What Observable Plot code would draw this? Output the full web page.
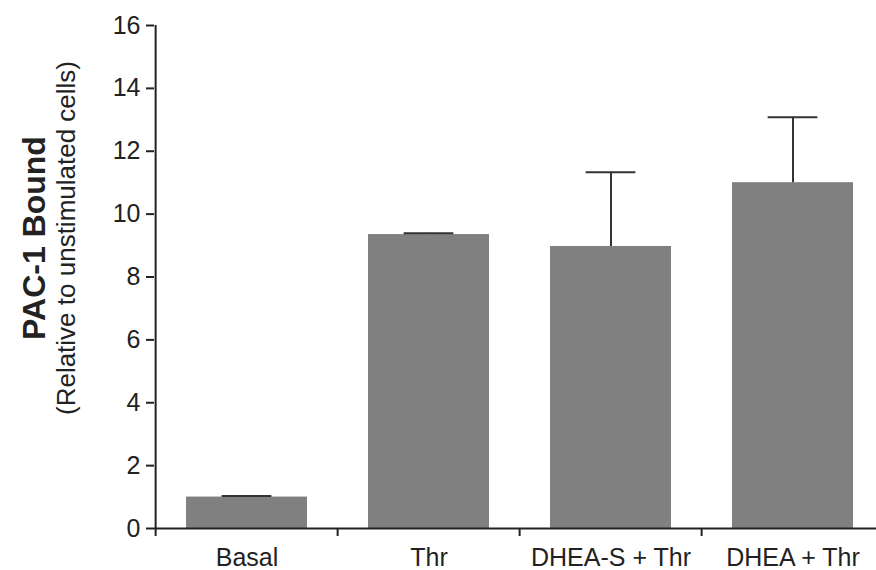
<!DOCTYPE html>
<html>
<head>
<meta charset="utf-8">
<script src="https://cdn.jsdelivr.net/npm/d3@7"></script>
<script src="https://cdn.jsdelivr.net/npm/@observablehq/plot@0.6"></script>
<style>
  html, body { margin: 0; padding: 0; background: #fff; }
  #chart svg { display: block; }
</style>
</head>
<body>
<div id="chart"></div>
<script>
const categories = ["Basal", "Thr", "DHEA-S + Thr", "DHEA + Thr"];
const means = [1.0, 9.35, 8.97, 11.0];
const errors = [0.03, 0.04, 2.36, 2.08];
const yTicks = [0, 2, 4, 6, 8, 10, 12, 14, 16];
const titleMain = "PAC-1 Bound";
const titleSub = "(Relative to unstimulated cells)";

const data = categories.map((c, i) => ({cat: c, value: means[i], err: errors[i], top: means[i] + errors[i]}));

const W = 876, H = 570, ML = 154;
const rangeRight = 885;
const step = (rangeRight - ML) / categories.length;
const font = "Liberation Sans, Arial, sans-serif";
const ink = "#222";

const chart = Plot.plot({
  width: W,
  height: H,
  marginLeft: ML,
  marginRight: 0,
  marginTop: 25,
  marginBottom: 42,
  style: {fontFamily: font, color: ink, background: "#fff"},
  x: {domain: categories, range: [ML, rangeRight], paddingInner: 0.333, paddingOuter: 0.1665},
  y: {domain: [0, 16]},
  marks: [
    Plot.barY(data, {x: "cat", y: "value", fill: "#808080"}),
    Plot.ruleX(data, {x: "cat", y1: "value", y2: "top", stroke: "#333", strokeWidth: 2}),
    Plot.tickY(data, {x: "cat", y: "top", stroke: "#333", strokeWidth: 2, insetLeft: step / 2 - 6, insetRight: step / 2 - 6}),
    Plot.ruleY([0], {stroke: ink, strokeWidth: 2}),
    Plot.ruleX([categories[0]], {x: d => d, y1: 0, y2: 16, dx: -step / 2, stroke: ink, strokeWidth: 2}),
    Plot.axisY({ticks: yTicks, tickSize: 8, tickPadding: 6, fontSize: 25, label: null, stroke: ink, strokeWidth: 2, fill: ink}),
    Plot.axisX({tickSize: 8, tickFormat: () => "", dx: -step / 2, label: null, stroke: ink, strokeWidth: 2}),
    Plot.axisX({tickSize: 0, tickPadding: 20, fontSize: 25, label: null, fill: ink}),
    Plot.text([titleMain], {text: d => d, frameAnchor: "left", rotate: -90, dx: -120, dy: -39, fontSize: 32, fontWeight: "bold", fill: ink, textAnchor: "middle", lineAnchor: "middle"}),
    Plot.text([titleSub], {text: d => d, frameAnchor: "left", rotate: -90, dx: -88, dy: -39, fontSize: 26, fill: ink, textAnchor: "middle", lineAnchor: "middle"})
  ]
});
document.getElementById("chart").appendChild(chart);
</script>
</body>
</html>
